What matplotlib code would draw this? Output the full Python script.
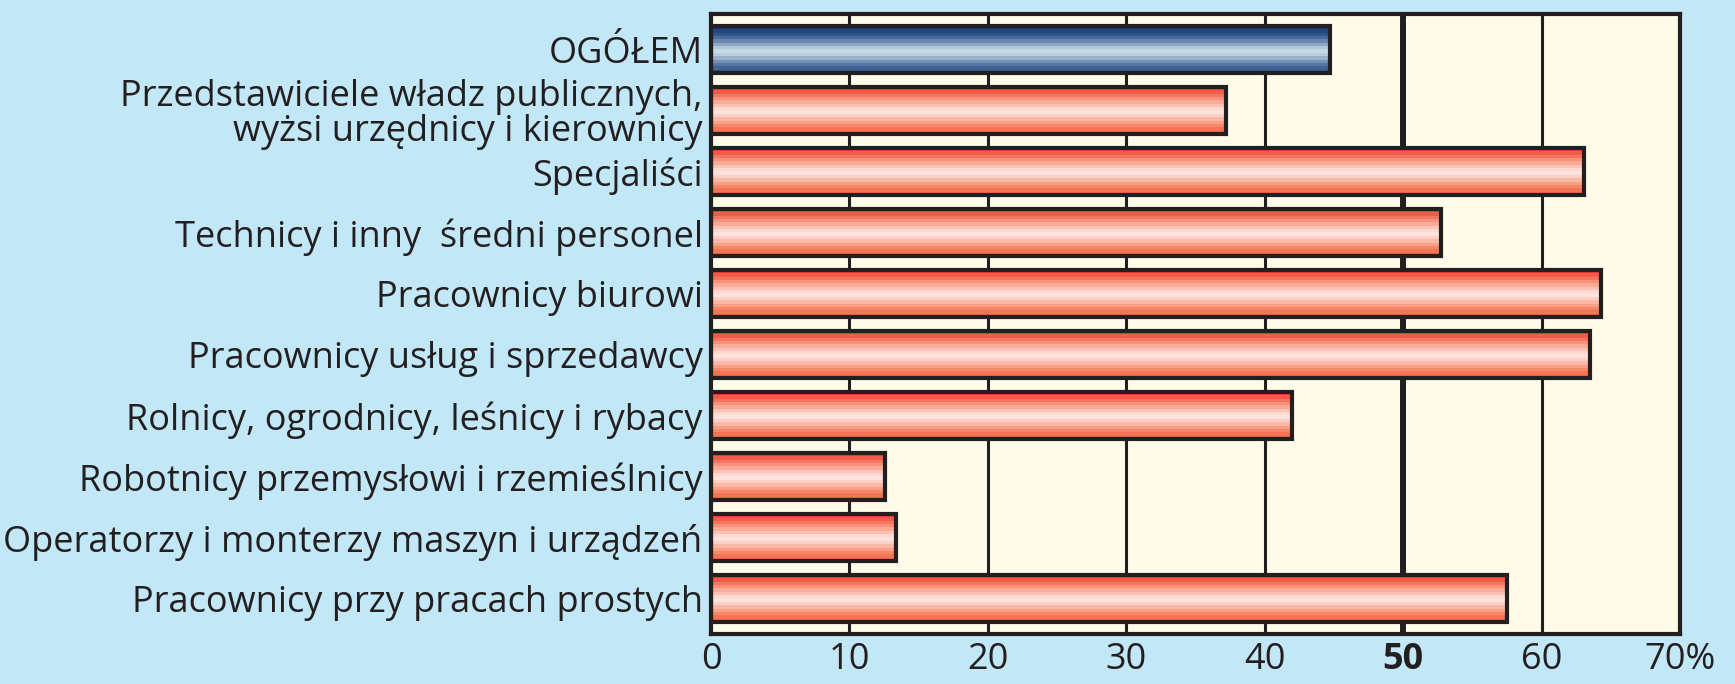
import numpy as np
import matplotlib
matplotlib.use('Agg')
import matplotlib.pyplot as plt
from matplotlib.colors import to_rgb

# dane
categories = [
    'OGÓŁEM',
    'Przedstawiciele władz publicznych,\nwyżsi urzędnicy i kierownicy',
    'Specjaliści',
    'Technicy i inny  średni personel',
    'Pracownicy biurowi',
    'Pracownicy usług i sprzedawcy',
    'Rolnicy, ogrodnicy, leśnicy i rybacy',
    'Robotnicy przemysłowi i rzemieślnicy',
    'Operatorzy i monterzy maszyn i urządzeń',
    'Pracownicy przy pracach prostych',
]
values = [44.7, 37.2, 63.1, 52.7, 64.3, 63.5, 42.0, 12.6, 13.4, 57.5]
is_total = [True, False, False, False, False, False, False, False, False, False]
x_ticks = [0, 10, 20, 30, 40, 50, 60, 70]
x_tick_labels = ['0', '10', '20', '30', '40', '50', '60', '70%']

# paski kolorów (od góry do dołu słupka)
red_stripes = ['#ef4136', '#f25a4a', '#f47560', '#f79179', '#f9ab97', '#fbc3b5', '#fdd9d2',
               '#fde3df', '#fcd0c5', '#fab8a6', '#f89f86', '#f6886a', '#f47553', '#f26a45']
blue_stripes = ['#163b72', '#20467e', '#2f5589', '#4a6c9c', '#6a87b0', '#8ea7c4', '#b0c7d8',
                '#c4dbe3', '#b7cedc', '#9ab2ca', '#7690b6', '#56769f', '#3e6394', '#2d578d']

BG = '#c2e8f8'
FACE = '#fffbe9'
DARK = '#231f20'

plt.rcParams['font.family'] = ['Open Sans', 'DejaVu Sans']
plt.rcParams['font.stretch'] = 'semi-condensed'
plt.rcParams['font.weight'] = 'normal'

fig = plt.figure(figsize=(17.35, 6.84), dpi=100, facecolor=BG)
ax = fig.add_axes([711 / 1735, 1 - 634 / 684, 969 / 1735, 620 / 684])
ax.set_facecolor(FACE)

y = np.arange(len(categories))
bar_h = 0.76

# siatka
for t in x_ticks[1:-1]:
    ax.axvline(t, color=DARK, lw=4.3 if t == 50 else 2.2, zorder=1)

# słupki z gradientem
for yi, v, tot in zip(y, values, is_total):
    stripes = blue_stripes if tot else red_stripes
    img = np.array([to_rgb(c) for c in stripes]).reshape(-1, 1, 3)
    ax.imshow(img, extent=(0, v, yi + bar_h / 2, yi - bar_h / 2), aspect='auto',
              interpolation='nearest', zorder=2)
ax.barh(y, values, height=bar_h, facecolor='none', edgecolor=DARK, linewidth=3.0, zorder=3)

ax.set_xlim(0, 70)
ax.set_ylim(len(categories) - 1 + 0.58, -0.58)
ax.set_aspect('auto')

ax.set_yticks(y)
ax.set_yticklabels(categories, fontsize=26, color=DARK, linespacing=0.95)
ax.set_xticks(x_ticks)
ax.set_xticklabels(x_tick_labels, fontsize=26, color=DARK)
ax.get_xticklabels()[5].set_fontweight('bold')
ax.tick_params(axis='both', length=0)
ax.tick_params(axis='y', pad=6)
ax.tick_params(axis='x', pad=6)

for s in ax.spines.values():
    s.set_linewidth(3.0)
    s.set_color(DARK)
    s.set_zorder(4)

plt.savefig('out.png', dpi=100, facecolor=BG)
plt.close()
